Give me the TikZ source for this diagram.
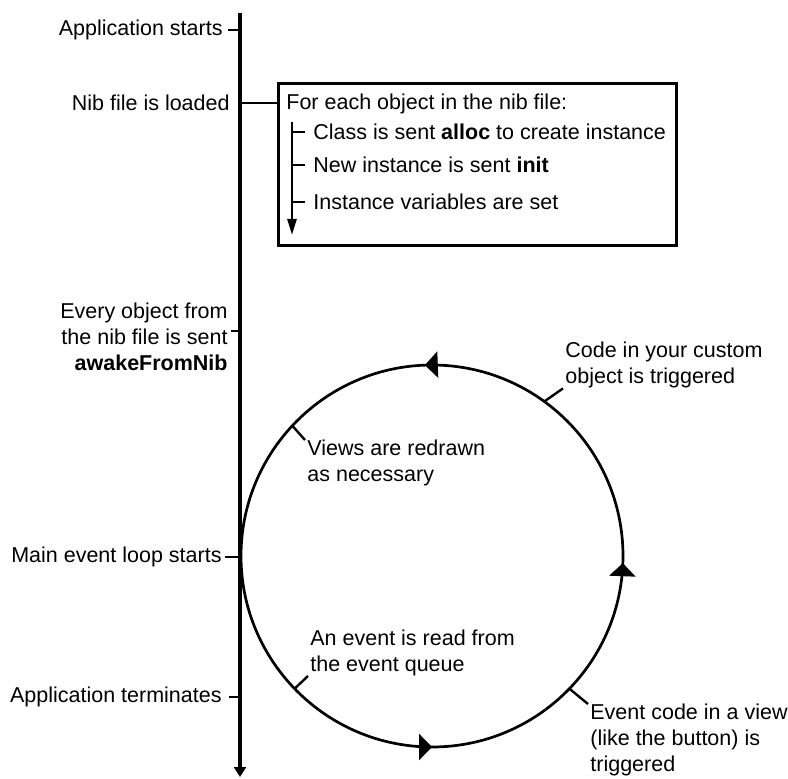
\documentclass[tikz,border=0pt]{standalone}
\usepackage{fontspec}
\setmainfont{Liberation Sans}
\usepackage{tikz}
\usetikzlibrary{arrows.meta,calc,positioning,decorations.markings}
\tikzset{cyc/.tip={Triangle[length=6.5pt,width=13pt]}}

\begin{document}
\begin{tikzpicture}[x=0.5pt,y=0.5pt,
  lbl/.style={font=\fontsize{10.75}{13}\selectfont,inner ysep=0pt},
  tick/.style={line width=1.2pt},
  loopline/.style={line width=1.35pt}]
\useasboundingbox (0,0) rectangle (788,778);
% time line
\coordinate (top) at (240,765);
\coordinate (bot) at (240,1);
\draw[line width=1.6pt,-{Triangle[length=5pt,width=6pt]}] (top) -- (bot);
\node[lbl,anchor=east,inner xsep=2.5pt] (appStart) at (228,748) {Application starts};
\draw[tick] (appStart) -- (appStart -| top);
\node[lbl,anchor=east,inner xsep=2.5pt] (nibLoaded) at (235,675) {Nib file is loaded};
\node[lbl,anchor=east,align=right,inner xsep=1.5pt] (awake) at (231,441) {Every object from\\the nib file is sent\\\textbf{awakeFromNib}};
\coordinate (tAwake) at (240,447);
\draw[tick] (tAwake -| awake.east) -- (tAwake);
\node[lbl,anchor=east,inner xsep=1.5pt] (mainLoop) at (225,221) {Main event loop starts};
\draw[tick] (mainLoop) -- (mainLoop -| top);
\node[lbl,anchor=east,inner xsep=3.5pt] (appEnd) at (229,81) {Application terminates};
\draw[tick] (appEnd) -- (appEnd -| top);
% nib loading box
\node[draw,line width=1.5pt,minimum width=199pt,minimum height=81pt,inner sep=0pt] (nibBox) at (477,613) {};
\draw[line width=1.3pt] (nibLoaded -| top) -- (nibBox.west |- nibLoaded);
\node[lbl,anchor=west,inner xsep=1pt] (forEach) at (284,674) {For each object in the nib file:};
\coordinate (subTop) at (292,656);
\coordinate (subEnd) at (292,543);
\draw[tick,-{Triangle[length=8pt,width=4.5pt]}] (subTop) -- (subEnd);
\foreach \nm/\yy/\txt in {sAlloc/646/{Class is sent \textbf{alloc} to create instance},
    sInit/613/{New instance is sent \textbf{init}},
    sVars/576/{Instance variables are set}}{
  \node[lbl,anchor=west,inner xsep=4pt] (\nm) at (305,\yy) {\txt};
  \draw[tick] (\nm) -- (\nm -| subTop);
}
% event loop
\coordinate (c) at (432,222);
\draw[loopline,postaction={decorate},decoration={markings,
    mark=at position 0.256 with {\arrow{cyc}},
    mark=at position 0.75 with {\arrow{cyc}},
    mark=at position 0.994 with {\arrow{cyc}}}] (c) circle[radius=191];
\coordinate (pCode) at ($(c)+(54:191)$);
\coordinate (pViews) at ($(c)+(137:191)$);
\coordinate (pRead) at ($(c)+(224:191)$);
\coordinate (pView) at ($(c)+(316:191)$);
\node[lbl,anchor=west,align=left,inner xsep=1pt] (code) at (563,413) {Code in your custom\\object is triggered};
\draw[tick] (pCode) -- (code.south west);
\node[lbl,anchor=north west,align=left,inner xsep=1pt] (views) at (305,338) {Views are redrawn\\as necessary};
\draw[tick] (pViews) -- (views.north west);
\node[lbl,anchor=south west,align=left,inner xsep=1pt] (readEv) at (308,102) {An event is read from\\the event queue};
\draw[tick] (pRead) -- (readEv.south west);
\node[lbl,anchor=north west,align=left,inner xsep=1pt] (viewEv) at (588,74) {Event code in a view\\(like the button) is\\triggered};
\draw[tick] (pView) -- (viewEv.north west);
\end{tikzpicture}
\end{document}
